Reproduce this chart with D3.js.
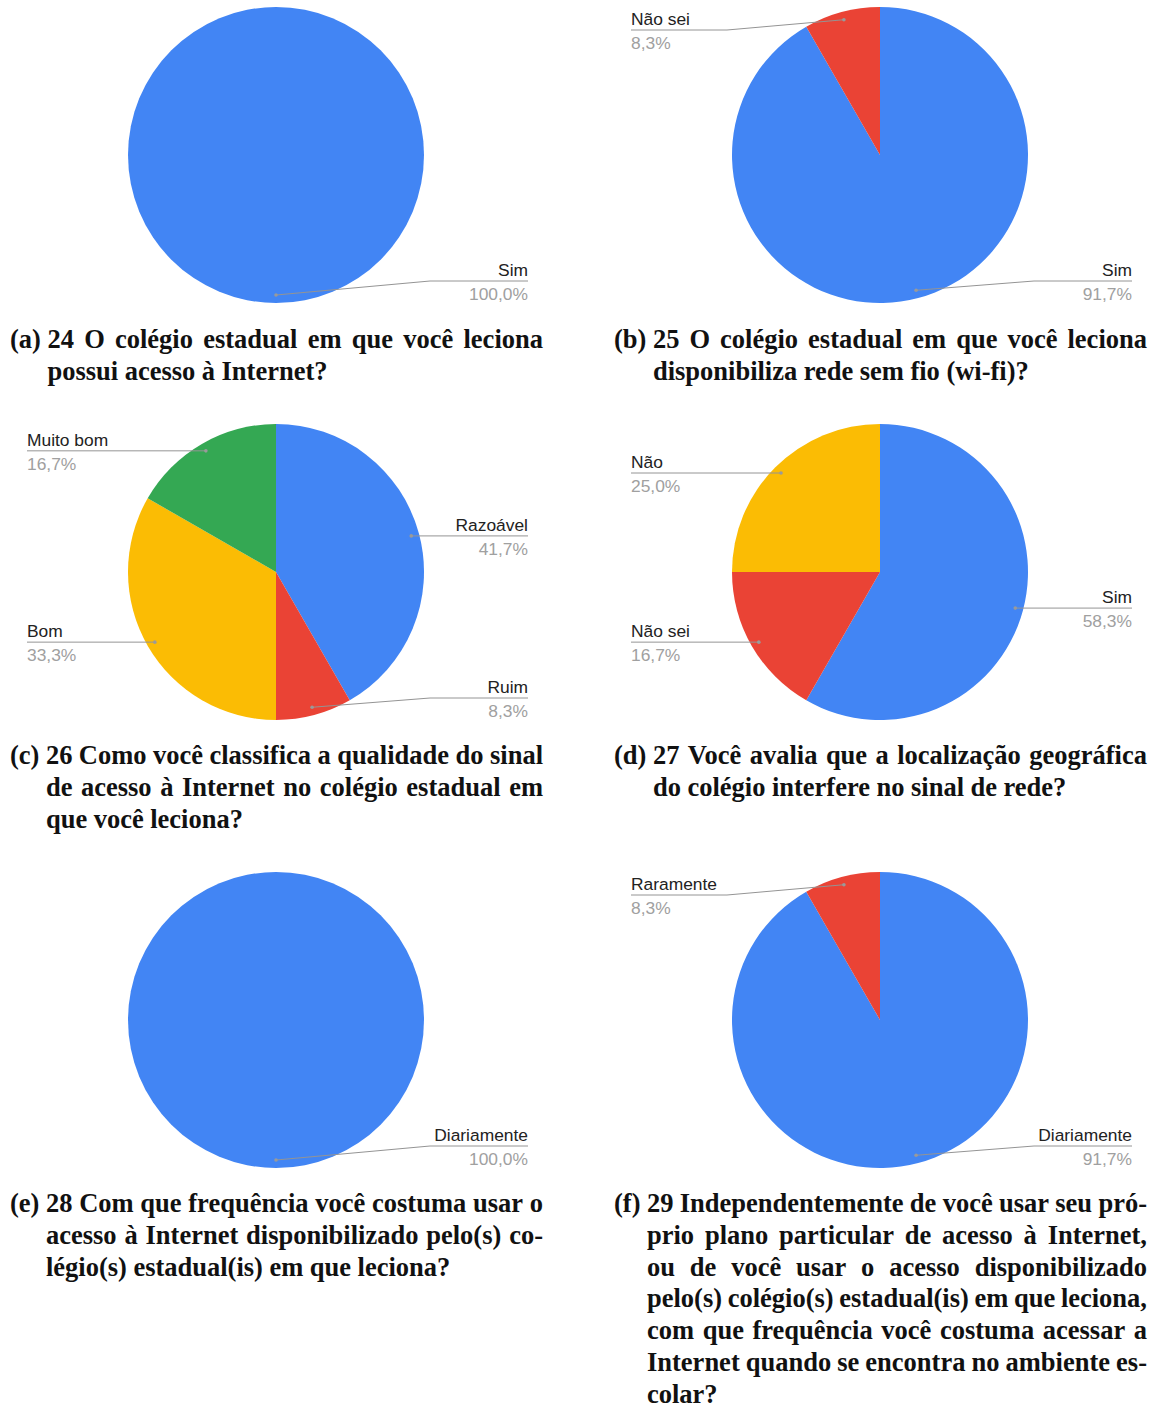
<!DOCTYPE html>
<html><head><meta charset="utf-8">
<script src="https://cdn.jsdelivr.net/npm/d3@7"></script>
<style>body{margin:0;background:#fff}svg{display:block}</style>
</head><body>
<svg id="c" width="1158" height="1408"></svg>
<script>
// ---- data ----
const catsA = ["Sim"];                        const valsA = [100.0];
const catsB = ["Sim", "Não sei"];             const valsB = [91.7, 8.3];
const catsC = ["Razoável", "Ruim", "Bom", "Muito bom"]; const valsC = [41.7, 8.3, 33.3, 16.7];
const catsD = ["Sim", "Não sei", "Não"];      const valsD = [58.3, 16.7, 25.0];
const catsE = ["Diariamente"];                const valsE = [100.0];
const catsF = ["Diariamente", "Raramente"];   const valsF = [91.7, 8.3];

const capA = ["(a)", ["24 O colégio estadual em que você leciona", "possui acesso à Internet?"]];
const capB = ["(b)", ["25 O colégio estadual em que você leciona", "disponibiliza rede sem fio (wi-fi)?"]];
const capC = ["(c)", ["26 Como você classifica a qualidade do sinal", "de acesso à Internet no colégio estadual em", "que você leciona?"]];
const capD = ["(d)", ["27 Você avalia que a localização geográfica", "do colégio interfere no sinal de rede?"]];
const capE = ["(e)", ["28 Com que frequência você costuma usar o", "acesso à Internet disponibilizado pelo(s) co-", "légio(s) estadual(is) em que leciona?"]];
const capF = ["(f)", ["29 Independentemente de você usar seu pró-", "prio plano particular de acesso à Internet,", "ou de você usar o acesso disponibilizado", "pelo(s) colégio(s) estadual(is) em que leciona,", "com que frequência você costuma acessar a", "Internet quando se encontra no ambiente es-", "colar?"]];

// colour per category
const colorMap = {"Sim":"#4285F4","Diariamente":"#4285F4","Razoável":"#4285F4",
  "Não sei":"#EA4335","Raramente":"#EA4335","Ruim":"#EA4335",
  "Bom":"#FBBC04","Não":"#FBBC04","Muito bom":"#34A853"};

const svg = d3.select("#c");
const R = 148;
const fmt = v => d3.format(".1f")(v).replace(".", ",") + "%";

const panels = [
  {cats:catsA, vals:valsA, cap:capA, cx:276, cy:155, capX:10,  capY:348},
  {cats:catsB, vals:valsB, cap:capB, cx:880, cy:155, capX:614, capY:348},
  {cats:catsC, vals:valsC, cap:capC, cx:276, cy:572, capX:10,  capY:764},
  {cats:catsD, vals:valsD, cap:capD, cx:880, cy:572, capX:614, capY:764},
  {cats:catsE, vals:valsE, cap:capE, cx:276, cy:1020, capX:10, capY:1212},
  {cats:catsF, vals:valsF, cap:capF, cx:880, cy:1020, capX:614, capY:1212}
];

const pie = d3.pie().sort(null).value(d => d.v);
const arc = d3.arc().innerRadius(0).outerRadius(R);
const dotArc = d3.arc().innerRadius(140).outerRadius(140);

panels.forEach(p => {
  const data = p.cats.map((c, i) => ({c, v: p.vals[i]}));
  const g = svg.append("g").attr("transform", `translate(${p.cx},${p.cy})`);
  const arcs = pie(data);
  g.selectAll("path.s").data(arcs).join("path").attr("class","s")
    .attr("d", arc).attr("fill", d => colorMap[d.data.c]);

  arcs.forEach(a => {
    const [dx, dy] = dotArc.centroid(a);
    const mid = (a.startAngle + a.endAngle) / 2;
    const right = mid <= Math.PI + 1e-6;
    const ly = Math.max(-125, Math.min(126, dy));
    const edge = right ? 252 : -249;
    const bend = right ? Math.max(dx, 154) : Math.min(dx, -153);
    g.append("path")
      .attr("d", `M${dx},${dy}L${bend},${ly}L${edge},${ly}`)
      .attr("fill","none").attr("stroke","#949494").attr("stroke-width",1);
    g.append("circle").attr("cx",dx).attr("cy",dy).attr("r",1.8).attr("fill","#9a9a9a");
    g.append("text").attr("x",edge).attr("y",ly-5)
      .attr("text-anchor", right ? "end" : "start")
      .attr("font-family","'Liberation Sans', Arial, sans-serif").attr("font-size",17.4)
      .attr("fill","#222").text(a.data.c);
    g.append("text").attr("x",edge).attr("y",ly+19)
      .attr("text-anchor", right ? "end" : "start")
      .attr("font-family","'Liberation Sans', Arial, sans-serif").attr("font-size",17.4)
      .attr("fill","#a0a0a0").text(fmt(a.data.v));
  });

  // caption, justified with hanging indent
  const cg = svg.append("g").attr("font-family","'Liberation Serif', 'Times New Roman', serif")
    .attr("font-weight","bold").attr("font-size",26.5).attr("fill","#111");
  const lab = cg.append("text").attr("x", p.capX).attr("y", p.capY).text(p.cap[0]);
  const spaceW = 6.5;
  const indent = p.capX + lab.node().getComputedTextLength() + spaceW;
  const rightEdge = p.capX + 533;
  const lines = p.cap[1];
  lines.forEach((line, li) => {
    const y = p.capY + li * 31.8;
    const words = line.split(" ");
    const els = words.map(w => cg.append("text").attr("y", y).text(w));
    const widths = els.map(e => e.node().getComputedTextLength());
    const total = d3.sum(widths);
    const last = li === lines.length - 1;
    const gap = (!last && words.length > 1) ? (rightEdge - indent - total) / (words.length - 1) : spaceW;
    let x = indent;
    els.forEach((e, i) => { e.attr("x", x); x += widths[i] + gap; });
  });
});
</script>
</body></html>
